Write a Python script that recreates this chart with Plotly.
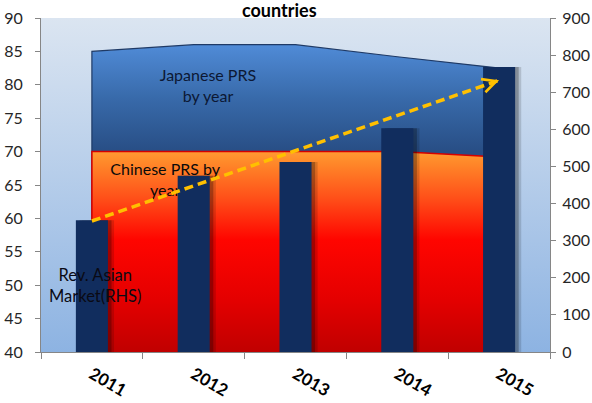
import plotly.graph_objects as go

# --- data -------------------------------------------------------------
years = ["2011", "2012", "2013", "2014", "2015"]
japanese_prs = [85, 86, 86, 84.2, 82.5]      # left axis
chinese_prs = [70, 70, 70, 70, 69.2]         # left axis
asian_revenue = [355, 475, 512, 603, 768]    # right axis (RHS)
trend_revenue = [353, 732]                   # trend arrow, first/last year

y_ticks = list(range(40, 91, 5))
y2_ticks = list(range(0, 901, 100))

# --- styling ------------------------------------------------------------
FONT = "Lato, Noto Sans, sans-serif"
AXIS_GREY = "#868686"
BAR_COLOR = "#112d5e"
Y_MIN, Y_MAX = 40, 90

xs = list(range(len(years)))
x_lo, x_hi = -0.5, len(years) - 0.5

fig = go.Figure()

# plot-area background with a vertical gradient
fig.add_trace(go.Scatter(
    x=[x_lo, x_hi, x_hi, x_lo], y=[Y_MIN, Y_MIN, Y_MAX, Y_MAX],
    fill="toself", mode="lines", line=dict(width=0),
    fillgradient=dict(type="vertical", start=Y_MIN, stop=Y_MAX,
                      colorscale=[[0, "#8db3e2"], [1, "#dbe5f1"]]),
    hoverinfo="skip", showlegend=False,
))

# Japanese PRS area
fig.add_trace(go.Scatter(
    x=[xs[0]] + xs + [xs[-1]], y=[Y_MIN] + japanese_prs + [Y_MIN],
    fill="toself", mode="lines", line=dict(color="#1f3a66", width=1.2),
    fillgradient=dict(type="vertical", start=70, stop=86,
                      colorscale=[[0, "#284e85"], [0.5, "#386aaa"], [1, "#508bd7"]]),
    showlegend=False, name="Japanese PRS",
))

# Chinese PRS area
fig.add_trace(go.Scatter(
    x=[xs[0]] + xs + [xs[-1]], y=[Y_MIN] + chinese_prs + [Y_MIN],
    fill="toself", mode="lines", line=dict(color="#d40000", width=1.5),
    fillgradient=dict(type="vertical", start=Y_MIN, stop=70,
                      colorscale=[[0, "#c00000"], [0.26, "#e40000"], [0.56, "#ff0500"],
                                  [0.76, "#ff4d18"], [0.95, "#ff8a2a"], [1, "#ff9a33"]]),
    showlegend=False, name="Chinese PRS",
))

# series labels that sit beneath the bars
fig.add_trace(go.Scatter(
    x=[1.14], y=[79.6], mode="text",
    text=["Japanese PRS<br>by year"],
    textfont=dict(family=FONT, size=16, color="#0c1834"),
    hoverinfo="skip", showlegend=False,
))
fig.add_trace(go.Scatter(
    x=[0.72], y=[65.5], mode="text",
    text=["Chinese PRS by<br>year"],
    textfont=dict(family=FONT, size=16, color="#0a0a0a"),
    hoverinfo="skip", showlegend=False,
))

# soft shadow behind the revenue bars
BAR_W = 0.315
for shift, alpha in [(0.06, 0.14), (0.035, 0.25)]:
    fig.add_trace(go.Bar(
        x=xs, y=asian_revenue, yaxis="y2",
        width=BAR_W, offset=-BAR_W / 2 + shift,
        marker=dict(color=f"rgba(0,0,0,{alpha})", line=dict(width=0)),
        hoverinfo="skip", showlegend=False,
    ))

# revenue bars (right-hand axis)
fig.add_trace(go.Bar(
    x=xs, y=asian_revenue, yaxis="y2",
    width=BAR_W, offset=-BAR_W / 2,
    marker=dict(color=BAR_COLOR, line=dict(width=0)),
    showlegend=False, name="Rev. Asian Market",
))

# dashed trend line over the bars
fig.add_trace(go.Scatter(
    x=[xs[0], xs[-1]], y=trend_revenue, yaxis="y2", mode="lines",
    line=dict(color="#ffc000", width=3.5, dash="9px,5px"),
    hoverinfo="skip", showlegend=False,
))

fig.update_layout(
    width=592, height=403,
    margin=dict(l=41, r=42, t=18, b=51),
    paper_bgcolor="white", plot_bgcolor="rgba(0,0,0,0)",
    barmode="overlay",
    font=dict(family=FONT, size=16, color="#262626"),
    xaxis=dict(
        range=[x_lo, x_hi], tickvals=xs, ticktext=years, tickangle=30,
        ticks="", showgrid=False, zeroline=False, automargin=False,
        showline=True, linecolor=AXIS_GREY, linewidth=1,
        ticklabelstandoff=5,
        tickfont=dict(family=FONT, size=17, color="#000000", weight="bold"),
        minor=dict(tickvals=[i - 0.5 for i in range(len(years) + 1)],
                   ticks="outside", ticklen=6, tickcolor=AXIS_GREY, tickwidth=1,
                   showgrid=False),
    ),
    yaxis=dict(
        range=[Y_MIN, Y_MAX], tickvals=y_ticks, showgrid=False, zeroline=False,
        automargin=False,
        showline=True, linecolor=AXIS_GREY, linewidth=1,
        ticks="outside", ticklen=5, tickcolor=AXIS_GREY,
        ticklabelstandoff=9,
    ),
    yaxis2=dict(
        range=[0, 900], tickvals=y2_ticks, overlaying="y", side="right",
        showgrid=False, zeroline=False, automargin=False,
        showline=True, linecolor=AXIS_GREY, linewidth=1,
        ticks="outside", ticklen=5, tickcolor=AXIS_GREY,
        ticklabelstandoff=3,
    ),
    annotations=[
        dict(text="<b>countries</b>", xref="paper", yref="paper",
             x=0.468, y=1.024, yanchor="middle", showarrow=False,
             font=dict(family=FONT, size=18, color="#000000")),
        dict(text="Rev. Asian<br>Market(RHS)", xref="x", yref="y",
             x=0.03, y=50.0, showarrow=False,
             font=dict(family=FONT, size=16.5, color="#0a0a14")),
        # arrowhead at the end of the trend line
        dict(x=xs[-1], y=trend_revenue[-1], xref="x", yref="y2",
             ax=-9, ay=3, text="", showarrow=True,
             arrowhead=5, arrowwidth=3, arrowsize=0.9, arrowcolor="#ffc000"),
    ],
)

fig.write_html("out.html")
